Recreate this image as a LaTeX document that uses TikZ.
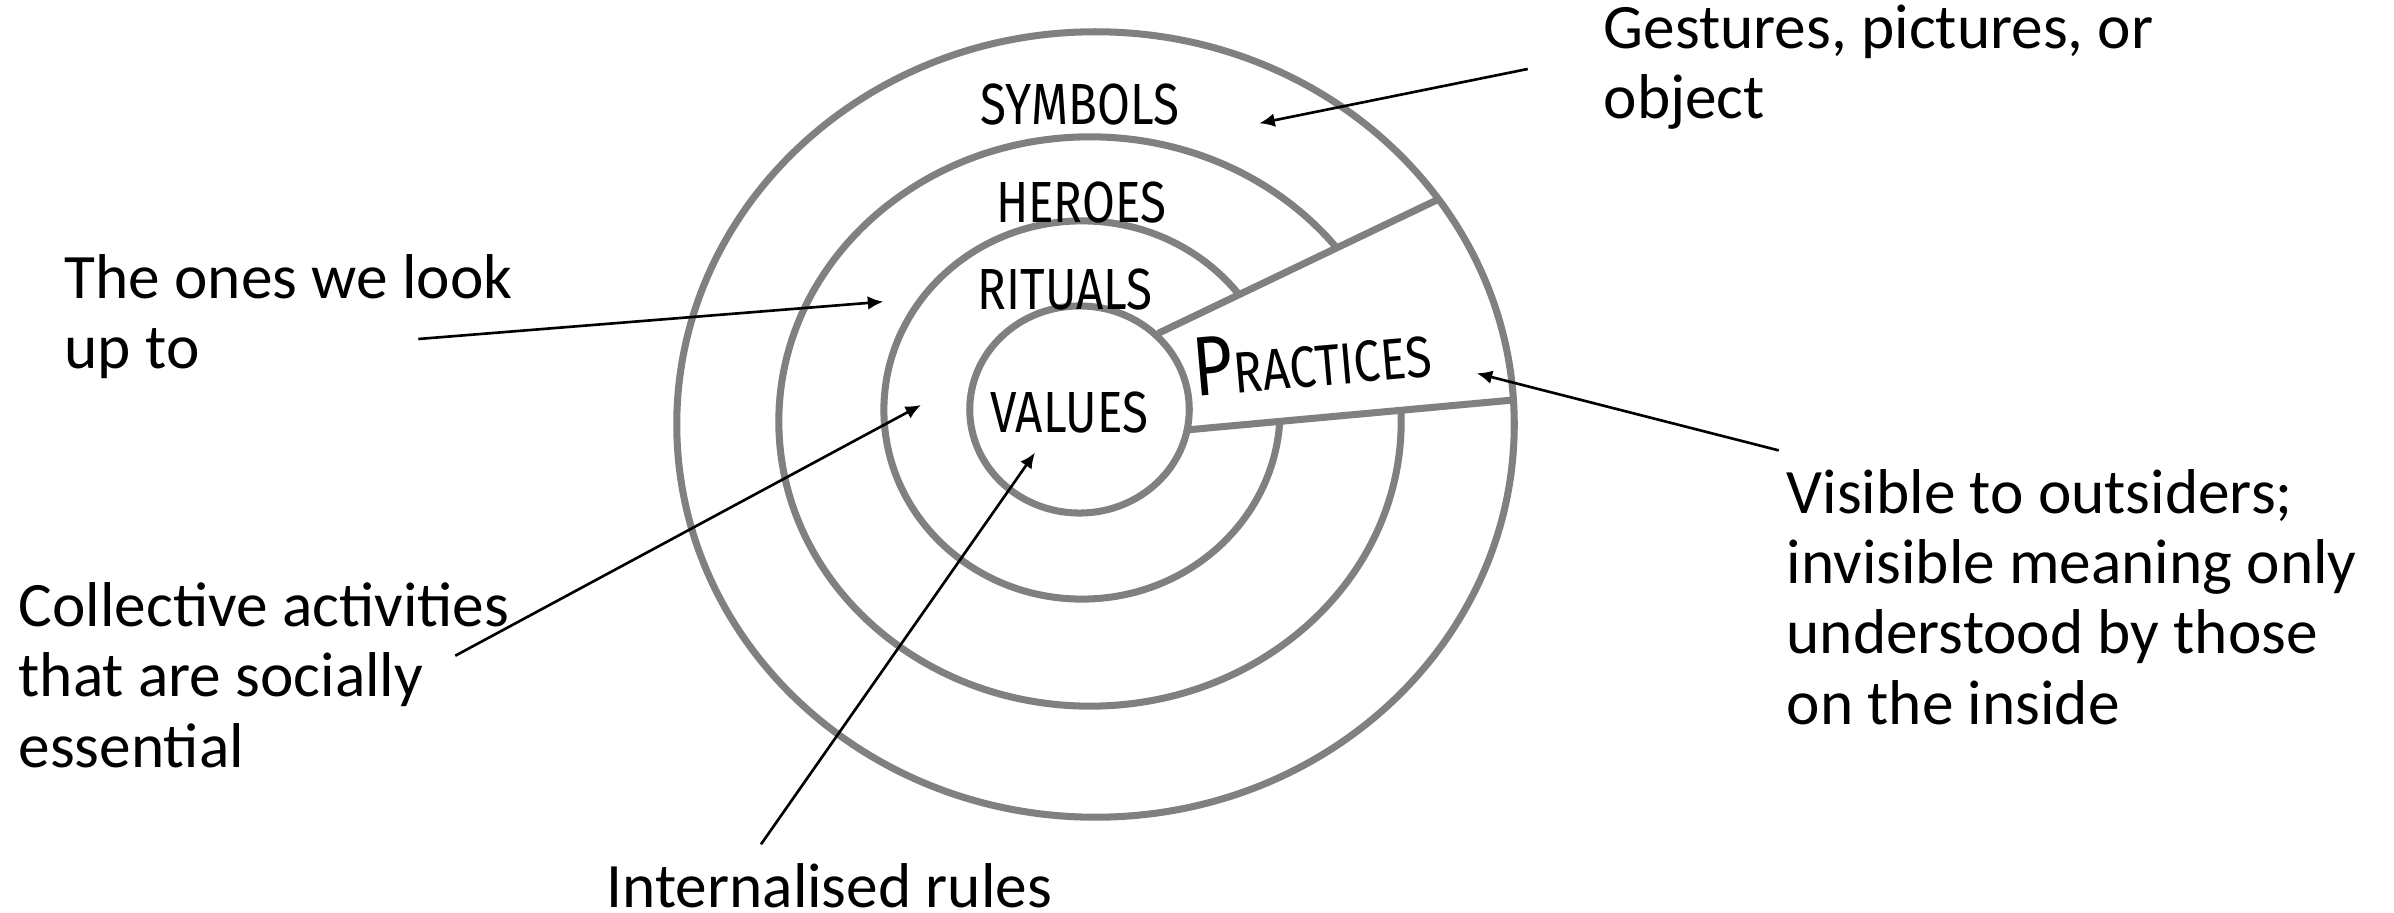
\documentclass[tikz,border=0pt]{standalone}
\usepackage{fontspec}
\usetikzlibrary{arrows.meta,shapes.geometric}
\setmainfont{Carlito}
\newfontfamily\handfont{Fira Sans}[FakeStretch=0.82]
\definecolor{ringgray}{RGB}{128,128,128}

\tikzset{
  ring/.style={draw=ringgray, line width=2pt, ellipse, inner sep=0pt, fill=none},
  wedgeline/.style={draw=ringgray, line width=2pt},
  note/.style={font=\fontsize{18}{20}\selectfont, align=left, inner sep=0pt, anchor=north west},
  hand/.style={font=\handfont\fontsize{16.5}{18}\selectfont, inner sep=0pt},
  pointer/.style={draw=black, line width=0.75pt, -{Latex[length=4.4pt, width=3.9pt]}}
}

\begin{document}
\begin{tikzpicture}[x=0.01cm, y=-0.01cm]
  \useasboundingbox (0,0) rectangle (2394,913);

  % the two middle layers, cut open later by the practices wedge
  \node[ring, minimum width=6.22cm, minimum height=5.69cm] (heroes) at (1090,421.5) {};
  \node[ring, minimum width=3.96cm, minimum height=3.78cm] (rituals) at (1082,410) {};

  % wedge of practices running through the outer layers
  \coordinate (wa) at (1158.3,333.3);
  \coordinate (wb) at (1438.3,199.3);
  \coordinate (wc) at (1513.3,400);
  \coordinate (wd) at (1186,430);
  \fill[white] (wa) -- (wb) -- (wc) -- (wd) -- cycle;

  \node[ring, minimum width=8.37cm, minimum height=7.85cm] (symbols) at (1095.5,424.5) {};
  \node[ring, minimum width=2.194cm, minimum height=2.07cm, fill=white] (values) at (1079.5,409.5) {};
  \draw[wedgeline] (wa) -- (wb);
  \draw[wedgeline] (wd) -- (wc);

  % layer labels
  \node[hand] (lsym) at (1080,105) {SYMBOLS};
  \node[hand] (lher) at (1081,203) {HEROES};
  \node[hand] (lrit) at (1065,290) {RITUALS};
  \node[hand] (lval) at (1069,413) {VALUES};
  \node[hand, rotate=5, anchor=center] (lpra) at (1312,358)
    {{\fontsize{24}{26}\selectfont P}RACTICES};

  % explanatory notes
  \node[note] (nsym) at (1603,4) {Gestures, pictures, or\\object};
  \node[note] (nher) at (64,253.5) {The ones we look\\up to};
  \node[note] (nrit) at (18,582) {Collective activities\\that are socially\\essential};
  \node[note] (npra) at (1786,468.5) {Visible to outsiders;\\invisible meaning only\\understood by those\\on the inside};
  \node[note] (nval) at (606,863) {Internalised rules};

  % pointer ends
  \coordinate (tsym) at (1527.7,69);
  \coordinate (hsym) at (1259.3,123.3);
  \coordinate (ther) at (418.3,339);
  \coordinate (hher) at (883.3,301.7);
  \coordinate (trit) at (455.3,655.7);
  \coordinate (hrit) at (921,405);
  \coordinate (tval) at (761,844.3);
  \coordinate (hval) at (1035,452.7);
  \coordinate (tpra) at (1778.7,450.4);
  \coordinate (hpra) at (1476.7,373.3);

  \draw[pointer] (tsym) -- (hsym);
  \draw[pointer] (ther) -- (hher);
  \draw[pointer] (trit) -- (hrit);
  \draw[pointer] (tval) -- (hval);
  \draw[pointer] (tpra) -- (hpra);
\end{tikzpicture}
\end{document}
